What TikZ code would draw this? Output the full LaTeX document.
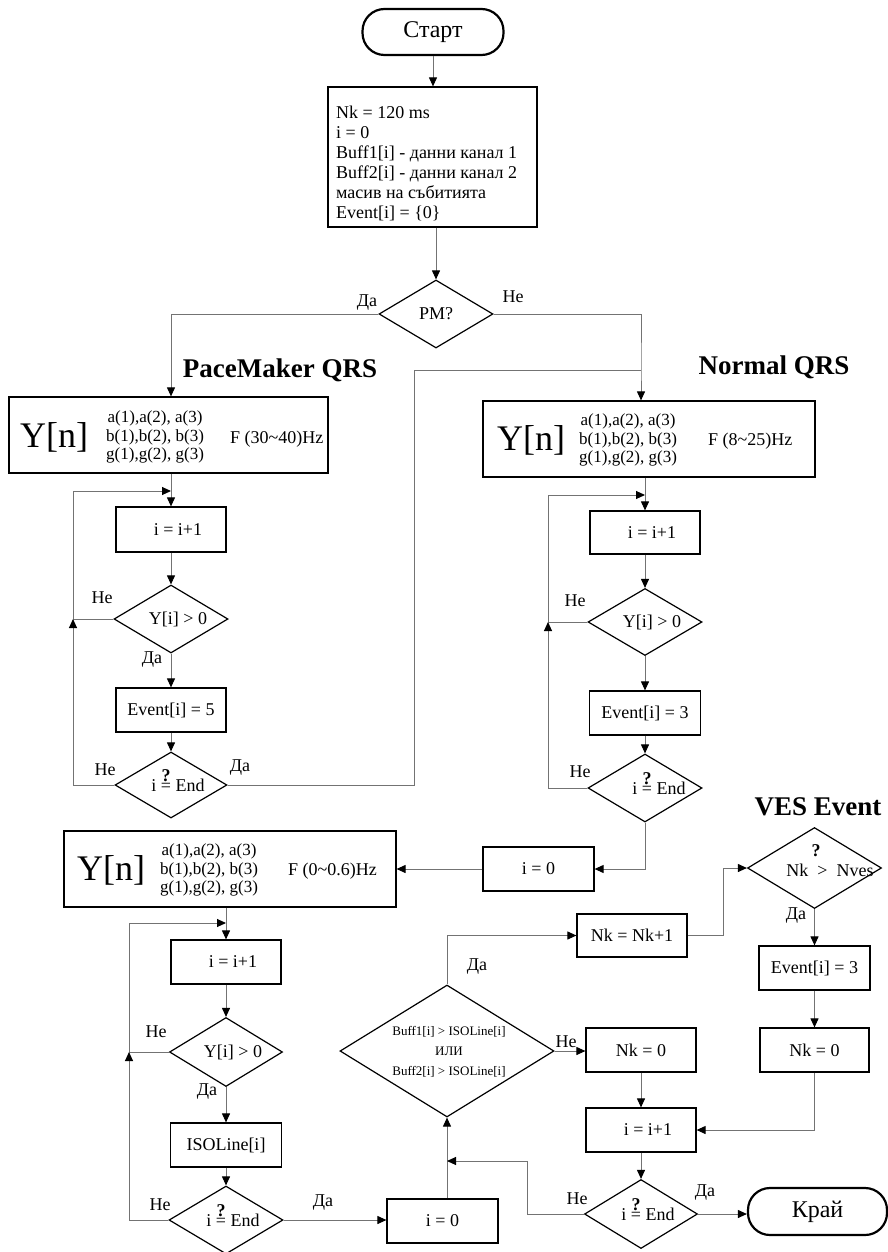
\documentclass[tikz,border=0pt]{standalone}
\usepackage{fontspec}
\setmainfont{Liberation Serif}
\usetikzlibrary{shapes.geometric,arrows.meta}
\newcommand\padl{\hspace*{14pt}}
\newcommand\qend{i \ooalign{=\cr\hidewidth\smash{\raisebox{0.55em}{\bfseries ?}}\hidewidth\cr} End}
\begin{document}
\begin{tikzpicture}[x=1pt,y=-1pt,
  conn/.style={draw=black!55, line width=1pt},
  arr/.style={conn, -{Triangle[length=9pt,width=8pt,color=black]}},
  box/.style={draw, line width=1.2pt, rectangle, inner sep=0pt, font=\fontsize{18}{20}\selectfont},
  dec/.style={draw, line width=1.2pt, diamond, inner sep=0pt, aspect=1.7, font=\fontsize{18}{20}\selectfont},
  term/.style={draw, line width=2.2pt, rounded corners=22pt, inner sep=0pt, font=\fontsize{24}{26}\selectfont},
  lbl/.style={font=\fontsize{18}{20}\selectfont, inner sep=0pt},
  head/.style={font=\bfseries\fontsize{27}{30}\selectfont, inner sep=0pt},
  bigY/.style={font=\fontsize{36}{40}\selectfont, inner sep=0pt, anchor=west},
  coef/.style={font=\fontsize{17}{18.5}\selectfont, align=center, inner sep=0pt, anchor=west},
  freq/.style={font=\fontsize{18}{20}\selectfont, inner sep=0pt, anchor=west},
]
\useasboundingbox (0,0) rectangle (888,1252);

% ---------- top ----------
\node[term, minimum width=141pt, minimum height=46pt] (start) at (433,32) {Старт};
\node[box, minimum width=209pt, minimum height=140pt] (init) at (432.5,157) {};
\node[lbl, align=left, anchor=west] (inittxt) at (336,163) {Nk = 120 ms\\ i = 0\\ Buff1[i] - данни канал 1\\ Buff2[i] - данни канал 2\\ масив на събитията\\ Event[i] = \{0\}};
\node[dec, minimum width=114pt, minimum height=68pt] (pm) at (436,314) {PM?};
\node[lbl] (pmyes) at (367,303) {Да};
\node[lbl] (pmno) at (513,297) {Не};

\node[head] (pmhead) at (280,370) {PaceMaker QRS};
\node[head] (nhead) at (774,367) {Normal QRS};
\node[head] (veshead) at (818,807) {VES Event};

% ---------- left filter ----------
\node[box, minimum width=319pt, minimum height=76pt] (yl) at (168.5,435) {};
\node[bigY] (ylY) at (20,437) {Y[n]};
\node[coef] (ylc) at (106,437) {a(1),a(2), a(3)\\ b(1),b(2), b(3)\\ g(1),g(2), g(3)};
\node[freq] (ylf) at (230,439) {F (30\textasciitilde 40)Hz};

\node[box, minimum width=110pt, minimum height=45pt] (iinc1) at (171,529.5) {\padl i = i+1};
\node[dec, minimum width=114pt, minimum height=68pt] (ydl) at (171,619) {\padl Y[i] > 0};
\node[box, minimum width=110pt, minimum height=44pt] (ev5) at (171,710) {Event[i] = 5};
\node[dec, minimum width=112pt, minimum height=66pt] (iend1) at (171,785) {\padl\qend};
\node[lbl] (l1) at (102,598) {Не};
\node[lbl] (l2) at (152,660) {Да};
\node[lbl] (l3) at (105,770) {Не};
\node[lbl] (l4) at (240,768) {Да};

% ---------- right filter ----------
\node[box, minimum width=332pt, minimum height=76pt] (yr) at (649,439) {};
\node[bigY] (yrY) at (497,440) {Y[n]};
\node[coef] (yrc) at (579,440) {a(1),a(2), a(3)\\ b(1),b(2), b(3)\\ g(1),g(2), g(3)};
\node[freq] (yrf) at (708,441) {F (8\textasciitilde 25)Hz};

\node[box, minimum width=110pt, minimum height=43pt] (iinc2) at (645,532.5) {\padl i = i+1};
\node[dec, minimum width=114pt, minimum height=67pt] (ydr) at (645,622) {\padl Y[i] > 0};
\node[box, minimum width=111pt, minimum height=44pt] (ev3) at (645,713) {Event[i] = 3};
\node[dec, minimum width=114pt, minimum height=68pt] (iend2) at (645,788) {\padl\padl\qend};
\node[lbl] (r1) at (575,601) {Не};
\node[lbl] (r2) at (580,772) {Не};

\node[box, minimum width=111pt, minimum height=44pt] (i0a) at (538.5,869) {i = 0};

% ---------- bottom filter ----------
\node[box, minimum width=332pt, minimum height=76pt] (yb) at (230,869) {};
\node[bigY] (ybY) at (77,870) {Y[n]};
\node[coef] (ybc) at (160,870) {a(1),a(2), a(3)\\ b(1),b(2), b(3)\\ g(1),g(2), g(3)};
\node[freq] (ybf) at (288,871) {F (0\textasciitilde 0.6)Hz};

\node[box, minimum width=110pt, minimum height=44pt] (iinc3) at (226,962) {\padl i = i+1};
\node[dec, minimum width=113pt, minimum height=69pt] (ydb) at (226,1052) {\padl Y[i] > 0};
\node[box, minimum width=111pt, minimum height=44pt] (iso) at (226,1145) {ISOLine[i]};
\node[dec, minimum width=114pt, minimum height=68pt] (iendb) at (226,1220) {\padl\qend};
\node[lbl] (b1) at (156,1032) {Не};
\node[lbl] (b2) at (207,1092) {Да};
\node[lbl] (b3) at (160,1205) {Не};
\node[lbl] (b4) at (323,1203) {Да};

\node[box, minimum width=111pt, minimum height=44pt] (i0b) at (442.5,1221) {i = 0};

% ---------- comparison ----------
\node[dec, minimum width=214pt, minimum height=132pt] (big) at (447,1051) {};
\node[font=\fontsize{13}{20}\selectfont, align=center, inner sep=0pt] (bigtxt) at (449,1052) {Buff1[i] > ISOLine[i]\\ ИЛИ\\ Buff2[i] > ISOLine[i]};
\node[lbl] (m1) at (477,967) {Да};
\node[lbl] (m2) at (566,1042) {Не};

\node[box, minimum width=110pt, minimum height=43pt] (nkinc) at (632,935.5) {Nk = Nk+1};
\node[dec, minimum width=134pt, minimum height=81pt] (ves) at (814.5,868) {};
\node[lbl, align=center] (vestxt) at (816,861) {\textbf{?}\\\hspace*{28pt}Nk \ > \ Nves};
\node[lbl] (v1) at (796,916) {Да};
\node[box, minimum width=111pt, minimum height=44pt] (ev3v) at (814.5,968) {Event[i] = 3};
\node[box, minimum width=109pt, minimum height=44pt] (nk0r) at (814.5,1050) {Nk = 0};
\node[box, minimum width=110pt, minimum height=44pt] (nk0m) at (641,1050) {Nk = 0};
\node[box, minimum width=110pt, minimum height=44pt] (iinc4) at (641,1130) {\padl i = i+1};
\node[dec, minimum width=113pt, minimum height=69pt] (iend4) at (641,1214) {\padl\qend};
\node[lbl] (e1) at (577,1199) {Не};
\node[lbl] (e2) at (705,1193) {Да};
\node[term, minimum width=139pt, minimum height=47pt] (kraj) at (817.5,1211.5) {Край};

% ---------- coordinates ----------
\coordinate (nline) at (641,370);
\coordinate (jog) at (414,370);
\coordinate (la) at (73,619);
\coordinate (lb) at (73,491);
\coordinate (lbot) at (73,785);
\coordinate (ra) at (548,622);
\coordinate (rb) at (548,495);
\coordinate (rbot) at (548,788);
\coordinate (ba) at (129,1052);
\coordinate (bb) at (129,923);
\coordinate (bbot) at (129,1220);
\coordinate (jn) at (447,1161);
\coordinate (jr) at (527,1161);
\coordinate (vj) at (723,868);

% ---------- connectors ----------
\draw[arr] (start.south) -- (start.south |- init.north);
\draw[arr] (init.south -| pm.north) -- (pm.north);
\draw[arr] (pm.west) -| (ydl.north |- yl.north);
\draw[arr] (pm.east) -| (nline) -- (nline |- yr.north);
\draw[conn] (iend1.east) -| (jog) -- (nline);

\draw[arr] (yl.south -| iinc1.north) -- (iinc1.north);
\draw[arr] (iinc1.south) -- (ydl.north);
\draw[arr] (ydl.south) -- (ev5.north);
\draw[arr] (ev5.south) -- (iend1.north);
\draw[conn] (ydl.west) -- (la);
\draw[arr] (iend1.west) -- (lbot) -- (la);
\draw[arr] (la) -- (lb) -- (lb -| iinc1.north);

\draw[arr] (yr.south -| iinc2.north) -- (iinc2.north);
\draw[arr] (iinc2.south) -- (ydr.north);
\draw[arr] (ydr.south) -- (ev3.north);
\draw[arr] (ev3.south) -- (iend2.north);
\draw[conn] (ydr.west) -- (ra);
\draw[arr] (iend2.west) -- (rbot) -- (ra);
\draw[arr] (ra) -- (rb) -- (rb -| iinc2.north);
\draw[arr] (iend2.south) |- (i0a.east);
\draw[arr] (i0a.west) -- (yb.east);

\draw[arr] (yb.south -| iinc3.north) -- (iinc3.north);
\draw[arr] (iinc3.south) -- (ydb.north);
\draw[arr] (ydb.south) -- (iso.north);
\draw[arr] (iso.south) -- (iendb.north);
\draw[conn] (ydb.west) -- (ba);
\draw[arr] (iendb.west) -- (bbot) -- (ba);
\draw[arr] (ba) -- (bb) -- (bb -| iinc3.north);
\draw[arr] (iendb.east) -- (iendb.east -| i0b.west);

\draw[arr] (i0b.north -| big.south) -- (big.south);
\draw[arr] (iend4.west) -| (jr) -- (jn);
\draw[arr] (big.north) |- (nkinc.west);
\draw[arr] (nkinc.east) -| (vj) -- (ves.west);
\draw[arr] (ves.south) -- (ev3v.north);
\draw[arr] (ev3v.south) -- (nk0r.north);
\draw[arr] (nk0r.south) |- (iinc4.east);
\draw[arr] (big.east) -- (big.east -| nk0m.west);
\draw[arr] (nk0m.south) -- (iinc4.north);
\draw[arr] (iinc4.south) -- (iend4.north);
\draw[arr] (iend4.east) -- (iend4.east -| kraj.west);
\end{tikzpicture}
\end{document}
